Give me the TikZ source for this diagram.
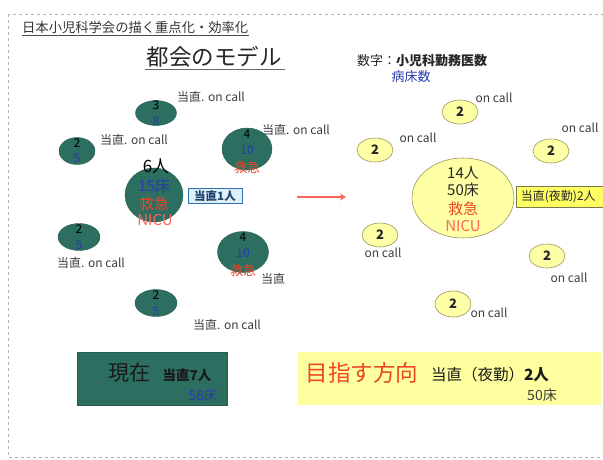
\documentclass[tikz,border=0pt]{standalone}
\usepackage{fontspec}
\setmainfont{Noto Sans CJK JP}
\usetikzlibrary{shapes.geometric,arrows.meta,calc}
\definecolor{tealg}{RGB}{44,110,96}
\definecolor{numblue}{RGB}{40,60,170}
\definecolor{redq}{RGB}{235,70,40}
\definecolor{pinkq}{RGB}{255,100,90}
\definecolor{yell}{RGB}{255,255,165}
\definecolor{yellbox}{RGB}{255,255,100}
\definecolor{yellbd}{RGB}{150,150,90}
\definecolor{lightyell}{RGB}{255,255,160}
\definecolor{boxblue}{RGB}{222,240,250}
\definecolor{boxbd}{RGB}{50,110,180}
\definecolor{txtgray}{RGB}{60,60,60}
\tikzset{
  gell/.style={ellipse, fill=tealg, draw=tealg!85!black, line width=0.4pt, inner sep=0pt},
  yell/.style={ellipse, fill=yell, draw=yellbd, line width=0.6pt, inner sep=0pt},
  lbl/.style={font=\fontsize{12}{13}\selectfont, text=txtgray, inner sep=0pt},
  gnum/.style={font=\fontsize{12}{13}\selectfont, text=black, inner sep=0pt},
  gbed/.style={font=\fontsize{12}{13}\selectfont, text=numblue, inner sep=0pt},
  gred/.style={font=\fontsize{13}{14}\selectfont, text=redq, inner sep=0pt},
  ynum/.style={font=\fontsize{13}{14}\selectfont\bfseries, text=black!85, inner sep=0pt},
  bigtxt/.style={font=\fontsize{15}{16}\selectfont, inner sep=0pt},
}
\begin{document}
\begin{tikzpicture}[x=1pt,y=-1pt]
\useasboundingbox (0,0) rectangle (603,459);
\fill[white] (0,0) rectangle (603,459);
% frame
\draw[gray!60, dashed, line width=0.6pt] (8,14) rectangle (610,457);
% titles
\node[anchor=west, inner sep=0pt, font=\fontsize{13.3}{14}\selectfont, text=black!80] (t1) at (22,27) {日本小児科学会の描く重点化・効率化};
\draw[black!70, line width=0.5pt] ($(t1.south west)+(0,2)$) -- ($(t1.south east)+(0,2)$);
\node[inner sep=0pt, font=\fontsize{22.5}{24}\selectfont, text=black!85] (t2) at (214,57) {都会のモデル};
\draw[black!60, line width=0.5pt] (145,69) -- (285,69);
\node[anchor=west, inner sep=0pt, font=\fontsize{13}{14}\selectfont, text=black!85] (t3) at (357,61) {数字：\textbf{小児科勤務医数}};
\node[inner sep=0pt, font=\fontsize{13}{14}\selectfont, text=numblue] (t4) at (411,77) {病床数};

% left cluster
\node[gell, minimum width=41, minimum height=25] (g1) at (156,113) {};
\node[gnum] (g1a) at (156,105) {3};
\node[gbed] (g1b) at (156,121) {8};
\node[lbl] (l1) at (211,97) {当直. on call};

\node[gell, minimum width=36, minimum height=27] (g2) at (77,151) {};
\node[gnum] (g2a) at (77,143) {2};
\node[gbed] (g2b) at (77,158) {5};
\node[lbl] (l2) at (134,140) {当直. on call};

\node[gell, minimum width=50, minimum height=42] (g3) at (247,149) {};
\node[gnum] (g3a) at (247,134) {4};
\node[gbed] (g3b) at (247,150) {10};
\node[gred] (g3c) at (247,168) {救急};
\node[lbl] (l3) at (296,130) {当直. on call};

\node[gell, minimum width=58, minimum height=54] (g4) at (154,195) {};
\node[font=\fontsize{17}{18}\selectfont, inner sep=0pt, text=black] (g4p) at (156,166) {6人};
\node[bigtxt, text=numblue] (g4a) at (154,186) {15床};
\node[bigtxt, text=redq] (g4b) at (154,204) {救急};
\node[bigtxt, text=pinkq] (g4c) at (155,220) {NICU};
\node[draw=boxbd, fill=boxblue, line width=0.6pt, minimum width=54, minimum height=15, inner sep=0pt, font=\fontsize{11.5}{12}\selectfont\bfseries, text=boxbd!60!black] (d1) at (215,196) {当直1人};

\node[gell, minimum width=42, minimum height=27] (g5) at (79,237) {};
\node[gnum] (g5a) at (79,229) {2};
\node[gbed] (g5b) at (79,245) {5};
\node[lbl] (l5) at (91,263) {当直. on call};

\node[gell, minimum width=51, minimum height=41] (g6) at (243,252) {};
\node[gnum] (g6a) at (243,237) {4};
\node[gbed] (g6b) at (243,253) {10};
\node[gred] (g6c) at (243,271) {救急};
\node[lbl] (l6) at (273,279) {当直};

\node[gell, minimum width=42, minimum height=27] (g7) at (156,303) {};
\node[gnum] (g7a) at (156,295) {2};
\node[gbed] (g7b) at (156,311) {5};
\node[lbl] (l7) at (227,325) {当直. on call};

% arrow
\coordinate (aS) at (297,197);
\coordinate (aE) at (346,197);
\draw[pinkq, line width=2.5pt, -{Stealth[length=6pt,width=7pt]}] (aS) -- (aE);

% right cluster
\node[yell, minimum width=36, minimum height=24] (y1) at (460,112) {};
\node[ynum] at (y1) {2};
\node[lbl] (m1) at (494,98) {on call};

\node[yell, minimum width=36, minimum height=24] (y2) at (375,150) {};
\node[ynum] at (y2) {2};
\node[lbl] (m2) at (418,138) {on call};

\node[yell, minimum width=36, minimum height=24] (y3) at (551,151) {};
\node[ynum] at (y3) {2};
\node[lbl] (m3) at (580,128) {on call};

\node[yell, minimum width=102, minimum height=80] (y4) at (463,198) {};
\node[bigtxt, text=black!85] (y4a) at (463,173) {14人};
\node[bigtxt, text=black!85] (y4b) at (463,190) {50床};
\node[bigtxt, text=redq] (y4c) at (463,209) {救急};
\node[bigtxt, text=pinkq] (y4d) at (463,226) {NICU};
\node[anchor=west, draw=yellbd!80!black, fill=yellbox, line width=0.6pt, minimum width=88, minimum height=21, inner sep=0pt, font=\fontsize{12}{13}\selectfont, text=black!85] (d2) at (516,197) {\hspace*{-4pt}当直(夜勤)2人};

\node[yell, minimum width=36, minimum height=24] (y5) at (380,235) {};
\node[ynum] at (y5) {2};
\node[lbl] (m5) at (383,253) {on call};

\node[yell, minimum width=36, minimum height=24] (y6) at (547,256) {};
\node[ynum] at (y6) {2};
\node[lbl] (m6) at (569,278) {on call};

\node[yell, minimum width=36, minimum height=26] (y7) at (453,304) {};
\node[ynum] at (y7) {2};
\node[lbl] (m7) at (489,313) {on call};

% bottom boxes
\node[fill=tealg, draw=tealg!85!black, line width=0.4pt, minimum width=150, minimum height=53, inner sep=0pt] (b1) at (152,378.5) {};
\node[inner sep=0pt, font=\fontsize{21}{22}\selectfont, text=black!90] (b1a) at (129,373) {現在};
\node[inner sep=0pt, font=\fontsize{13.5}{14}\selectfont\bfseries, text=black!90] (b1b) at (187,375) {当直7人};
\node[inner sep=0pt, font=\fontsize{13.5}{14}\selectfont, text=numblue] (b1c) at (203,395) {58床};

\node[fill=lightyell, minimum width=303, minimum height=53, inner sep=0pt] (b2) at (449.5,378.5) {};
\node[inner sep=0pt, font=\fontsize{22.5}{24}\selectfont, text=redq] (b2a) at (362,373) {目指す方向};
\node[inner sep=0pt, font=\fontsize{15.5}{16}\selectfont, text=black!90] (b2b) at (490,375) {当直（夜勤）\textbf{2人}};
\node[inner sep=0pt, font=\fontsize{14}{15}\selectfont, text=txtgray] (b2c) at (542,395) {50床};
\end{tikzpicture}
\end{document}
